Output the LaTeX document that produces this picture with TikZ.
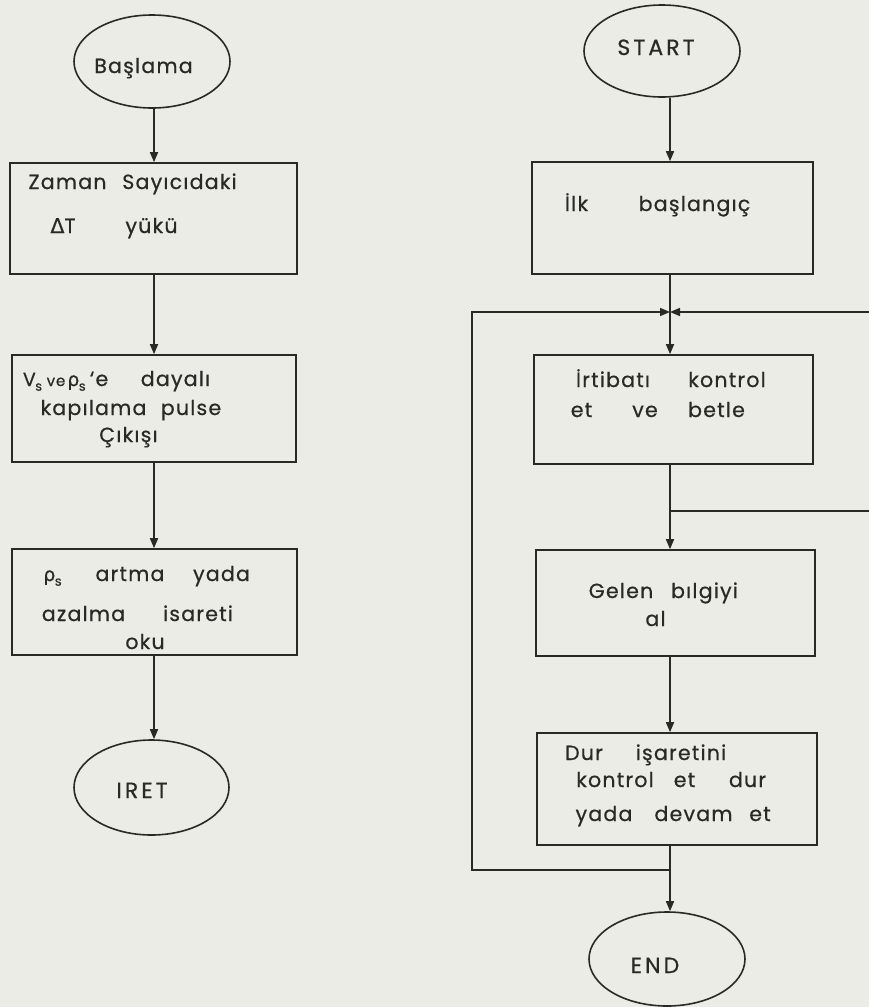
\documentclass[tikz,border=0pt]{standalone}
\usepackage{fontspec}
\setmainfont{Poppins}[LetterSpace=6,FakeBold=0.6]
\newfontfamily\gk{DejaVu Sans}[FakeBold=0.4]
\usetikzlibrary{shapes.geometric,arrows.meta}
\definecolor{paper}{HTML}{EBECE6}
\definecolor{ink}{HTML}{2A2926}
% small lowered index letter, as in V_s
\newcommand{\idx}[1]{\kern-0.5pt\raisebox{-0.45ex}{\fontsize{13}{13}\selectfont #1}}
\begin{document}
\begin{tikzpicture}[x=1pt,y=-1pt,line width=1.6pt,color=ink,
  terminal/.style={ellipse,draw,inner sep=0pt},
  stepbox/.style={rectangle,draw,inner sep=0pt},
  txt/.style={anchor=base,inner sep=0pt,font=\fontsize{20.5}{24}\selectfont,text=ink},
  symtxt/.style={txt,font=\fontsize{19}{22}\selectfont},
  smalltxt/.style={txt,font=\fontsize{15}{17}\selectfont},
  captxt/.style={txt,font=\fontsize{22}{26}\selectfont\addfontfeatures{LetterSpace=14}},
  flow/.style={-{Triangle[length=10pt,width=8pt]}},
]
\fill[paper] (0,0) rectangle (869,1007);
\useasboundingbox (0,0) rectangle (869,1007);

% ---------- left chart ----------
\node[terminal,minimum width=156,minimum height=93] (bas) at (152,61.5) {};
\node[stepbox,minimum width=287,minimum height=111] (zam) at (153.5,218.5) {};
\node[stepbox,minimum width=284,minimum height=107] (kap) at (154,408.5) {};
\node[stepbox,minimum width=285,minimum height=106] (art) at (154.5,602) {};
\node[terminal,minimum width=155,minimum height=95] (iret) at (151.5,787.5) {};

\node[txt] (tbas) at (143.5,73) {Başlama};
\foreach \x/\w [count=\i] in {67.5/Zaman,179.5/Sayıcıdaki}
  \node[txt] (za\i) at (\x,189) {\w};
\foreach \x/\w [count=\i] in {63/{{\gk Δ}T},151.5/yükü}
  \node[txt] (zb\i) at (\x,233) {\w};
\node[symtxt] (ka1) at (32.5,386) {V\idx{s}};
\node[smalltxt] (ka2) at (56,386) {ve};
\node[symtxt] (ka3) at (76.5,386) {{\gk ρ}\idx{s}};
\node[txt] (ka4) at (99,386) {‘e};
\node[txt] (ka5) at (175.5,386) {dayalı};
\foreach \x/\w [count=\i] in {93.5/kapılama,191/pulse}
  \node[txt] (kb\i) at (\x,415) {\w};
\node[txt] (kc1) at (128.5,442) {Çıkışı};
\node[symtxt] (aa1) at (52.5,581) {{\gk ρ}\idx{s}};
\foreach \x/\w [count=\i] in {130/artma,221.5/yada}
  \node[txt] (aa\the\numexpr\i+1\relax) at (\x,581) {\w};
\foreach \x/\w [count=\i] in {83.5/azalma,198/isareti}
  \node[txt] (ab\i) at (\x,621) {\w};
\node[txt] (ac1) at (145,649) {oku};
\node[captxt] (tiret) at (142,798) {IRET};

\coordinate (lx) at (154,0);
\draw[flow] (bas.south -| lx) -- (zam.north -| lx);
\draw[flow] (zam.south -| lx) -- (kap.north -| lx);
\draw[flow] (kap.south -| lx) -- (art.north -| lx);
\draw[flow] (art.south -| lx) -- (iret.north -| lx);

% ---------- right chart ----------
\node[terminal,minimum width=156,minimum height=92] (start) at (662,51) {};
\node[stepbox,minimum width=281,minimum height=112] (ilk) at (672.5,218) {};
\node[stepbox,minimum width=279,minimum height=109] (irt) at (673.5,409.5) {};
\node[stepbox,minimum width=279,minimum height=106] (gel) at (675.5,603) {};
\node[stepbox,minimum width=280,minimum height=112] (dur) at (677,789) {};
\node[terminal,minimum width=156,minimum height=94] (end) at (667,959) {};

\node[captxt] (tstart) at (656,55) {START};
\foreach \x/\w [count=\i] in {576.5/İlk,694.5/başlangıç}
  \node[txt] (ia\i) at (\x,211) {\w};
\foreach \x/\w [count=\i] in {613/İrtibatı,727/kontrol}
  \node[txt] (ra\i) at (\x,387) {\w};
\foreach \x/\w [count=\i] in {581.5/et,645/ve,716.5/betle}
  \node[txt] (rb\i) at (\x,417) {\w};
\foreach \x/\w [count=\i] in {621/Gelen,704.5/bılgiyi}
  \node[txt] (ga\i) at (\x,598) {\w};
\node[txt] (gb1) at (655.5,626) {al};
\foreach \x/\w [count=\i] in {584/Dur,681/işaretini}
  \node[txt] (da\i) at (\x,760) {\w};
\foreach \x/\w [count=\i] in {615/kontrol,684.5/et,747.5/dur}
  \node[txt] (db\i) at (\x,787) {\w};
\foreach \x/\w [count=\i] in {604/yada,693.5/devam,760/et}
  \node[txt] (dc\i) at (\x,821) {\w};
\node[captxt] (tend) at (655,973) {END};

% junctions and loop corners
\coordinate (rx) at (670,0);
\coordinate (j1) at (670,312);
\coordinate (j2) at (670,511);
\coordinate (j3) at (670,870);
\coordinate (lt) at (472,312);
\coordinate (lb) at (472,870);
\coordinate (rt) at (869,312);
\coordinate (rm) at (869,511);

\draw[flow] (start.south -| rx) -- (ilk.north -| rx);
\draw[flow] (ilk.south -| rx) -- (irt.north -| rx);
\draw[flow] (irt.south -| rx) -- (gel.north -| rx);
\draw[flow] (gel.south -| rx) -- (dur.north -| rx);
\draw[flow] (dur.south -| rx) -- (end.north -| rx);
\draw[flow] (j3) -- (lb) -- (lt) -- (j1);
\draw[flow] (rt) -- (j1);
\draw (j2) -- (rm);
\end{tikzpicture}
\end{document}
